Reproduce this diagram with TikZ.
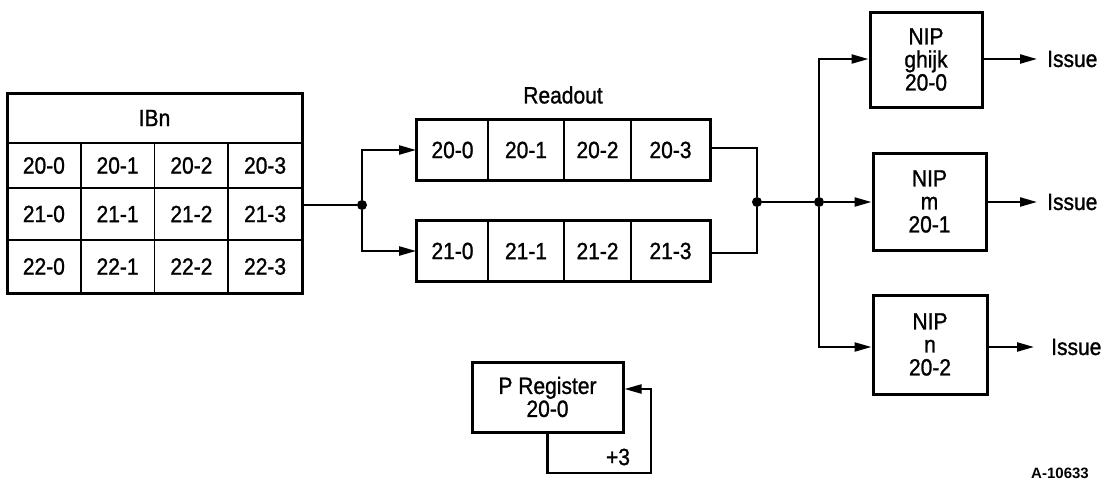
\documentclass[tikz,border=0pt]{standalone}
\usepackage{fontspec}
\setmainfont[FakeBold=1.2]{Liberation Sans}
\newfontfamily\tagfont{Liberation Sans}
\usetikzlibrary{arrows.meta}
% slightly tall lettering
\newcommand{\st}[1]{\scalebox{1}[1.12]{#1}}
\begin{document}
\begin{tikzpicture}[x=1pt,y=-1pt,
  every node/.style={font=\fontsize{21}{25}\selectfont},
  cell/.style={draw, line width=1.8pt, inner sep=0pt, anchor=center},
  frame/.style={draw, line width=3pt, inner sep=0pt},
  conn/.style={line width=2.2pt},
  arr/.style={conn, -{Triangle[length=17pt,width=9pt]}},
  dot/.style={circle, fill, inner sep=0pt, minimum size=10pt},
  lbl/.style={inner sep=0pt}]
\useasboundingbox (0,0) rectangle (1113,485);

% ---------- IBn table ----------
\node[cell, minimum width=295pt, minimum height=50pt] (ibn) at (154.5,118) {\st{IBn}};
\foreach \r/\yc/\h in {0/165.5/45, 1/214/52, 2/266.5/53}{
  \foreach \c/\xc in {0/43.9, 1/117.6, 2/191.4, 3/265.1}{
    \pgfmathtruncatemacro{\row}{20+\r}
    \node[cell, minimum width=73.75pt, minimum height=\h pt] (t\r\c) at (\xc,\yc) {\st{\row-\c}};
  }
}
\draw[line width=3pt] (7,93) rectangle (302,293);

% ---------- Readout registers ----------
\node[lbl] (readout) at (563,95) {\st{Readout}};
\foreach \r/\yc in {0/150, 1/251}{
  \pgfmathtruncatemacro{\row}{20+\r}
  \node[cell, minimum width=71pt, minimum height=60pt] (r\r0) at (452.5,\yc) {\st{\row-0}};
  \node[cell, minimum width=76pt, minimum height=60pt] (r\r1) at (526,\yc) {\st{\row-1}};
  \node[cell, minimum width=67pt, minimum height=60pt] (r\r2) at (597.5,\yc) {\st{\row-2}};
  \node[cell, minimum width=79pt, minimum height=60pt] (r\r3) at (670.5,\yc) {\st{\row-3}};
  \draw[line width=3pt] (r\r0.north west) rectangle (r\r3.south east);
}

% ---------- NIP registers ----------
\node[frame, minimum width=112pt, minimum height=95pt, align=center] (nip1) at (926,59.5)
  {\st{NIP}\\[-2pt]\st{ghijk}\\[-2pt]\st{20-0}};
\node[frame, minimum width=113pt, minimum height=97pt, align=center] (nip2) at (929.5,201.5)
  {\st{NIP}\\[-2pt]\st{m}\\[-2pt]\st{20-1}};
\node[frame, minimum width=114pt, minimum height=99pt, align=center] (nip3) at (930,344.5)
  {\st{NIP}\\[-2pt]\st{n}\\[-2pt]\st{20-2}};

\node[lbl, anchor=west, inner xsep=10pt] (iss1) at (1037,59) {\st{Issue}};
\node[lbl, anchor=west, inner xsep=10pt] (iss2) at (1037,202) {\st{Issue}};
\node[lbl, anchor=west, inner xsep=15pt] (iss3) at (1036,347) {\st{Issue}};

% ---------- P register ----------
\node[frame, minimum width=151pt, minimum height=70pt, align=center] (preg) at (547.5,397)
  {\st{P Register}\\[-2pt]\st{20-0}};
\node[lbl] (plus) at (618,457) {\st{+3}};

\node[lbl, font=\tagfont\fontsize{15}{18}\selectfont\bfseries] (fig) at (1060,473) {A-10633};

% ---------- junctions ----------
\coordinate (a0) at (302,205);
\node[dot] (j1) at (362,205) {};
\coordinate (j1u) at (362,150);
\coordinate (j1d) at (362,251);
\coordinate (b0) at (757,148);
\coordinate (b1) at (757,253);
\node[dot] (j2) at (757,202) {};
\node[dot] (j3) at (819,202) {};
\coordinate (j3u) at (819,59);
\coordinate (j3d) at (819,347);
\coordinate (l1) at (547.5,473);
\coordinate (l2) at (651,473);
\coordinate (l3) at (651,389);

% ---------- connectors ----------
\draw[conn] (a0) -- (j1);
\draw[arr] (j1) -- (j1u) -- (r00.west);
\draw[arr] (j1) -- (j1d) -- (r10.west);
\draw[conn] (r03.east |- b0) -- (b0) -- (j2);
\draw[conn] (r13.east |- b1) -- (b1) -- (j2);
\draw[conn] (j2) -- (j3);
\draw[arr] (j3) -- (nip2.west |- j3);
\draw[arr] (j3) -- (j3u) -- (nip1.west |- j3u);
\draw[arr] (j3) -- (j3d) -- (nip3.west |- j3d);
\draw[arr] (nip1.east |- iss1) -- (iss1.west);
\draw[arr] (nip2.east |- iss2) -- (iss2.west);
\draw[arr] (nip3.east |- iss3) -- ([xshift=-2pt]iss3.west);
\draw[arr] (preg.south) -- (l1) -- (l2) -- (l3) -- (preg.east |- l3);
\end{tikzpicture}
\end{document}
